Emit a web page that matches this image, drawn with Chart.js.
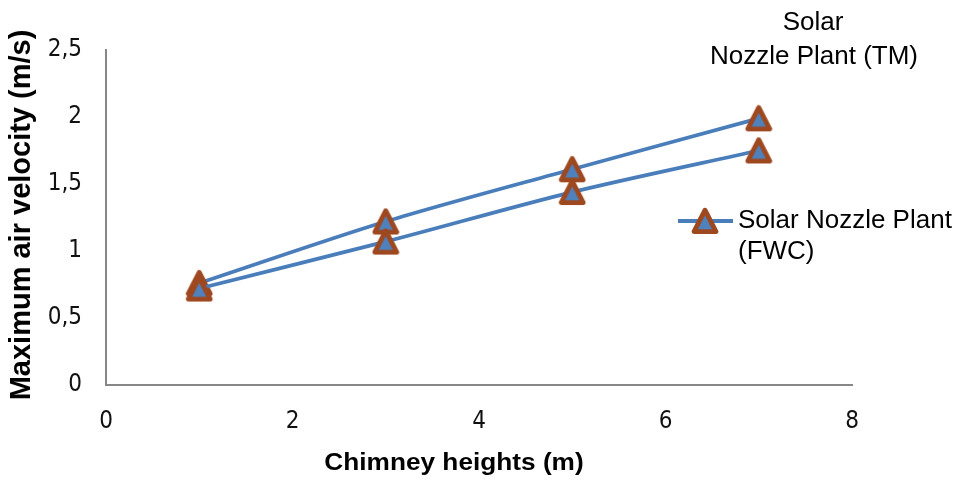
<!DOCTYPE html>
<html>
<head>
<meta charset="utf-8">
<script src="https://cdn.jsdelivr.net/npm/chart.js@4/dist/chart.umd.min.js"></script>
<style>
  html, body { margin: 0; padding: 0; background: #ffffff; }
  #wrap { position: relative; width: 957px; height: 483px; }
</style>
</head>
<body>
<div id="wrap"><canvas id="chart" width="957" height="483"></canvas></div>
<script>
// Chimney heights (m)
const heights = [1, 3, 5, 7];
// Maximum air velocity (m/s) for each plant configuration
const velocityTM = [0.76, 1.22, 1.61, 1.99];
const velocityFWC = [0.72, 1.07, 1.44, 1.75];
// Axis ticks
const xTickValues = [0, 2, 4, 6, 8];
const yTickValues = [0, 0.5, 1, 1.5, 2, 2.5];
const yTickLabels = ['0', '0,5', '1', '1,5', '2', '2,5'];

const seriesNames = ['Solar Nozzle Plant (TM)', 'Solar Nozzle Plant (FWC)'];

const LINE_BLUE = '#4a7ebb';
const MARK_FILL = '#4f81bd';
const MARK_EDGE = '#9e4820';
const TICK_FONT = '"Liberation Sans Narrow", "DejaVu Sans Condensed", "Open Sans", sans-serif';

// Triangle marker drawn once on its own canvas and reused as the point style
function makeTriangle() {
  const c = document.createElement('canvas');
  c.width = 28; c.height = 28;
  const g = c.getContext('2d');
  g.beginPath();
  g.moveTo(14, 3.2);
  g.lineTo(25, 24.6);
  g.lineTo(3, 24.6);
  g.closePath();
  g.fillStyle = MARK_FILL;
  g.fill();
  g.lineWidth = 4.8;
  g.lineJoin = 'round';
  g.strokeStyle = MARK_EDGE;
  g.stroke();
  return c;
}
const triangle = makeTriangle();

function toPoints(xs, ys) {
  return xs.map((x, i) => ({ x: x, y: ys[i] }));
}

// Axis titles and the legend block on the right
const textPlugin = {
  id: 'chartText',
  afterDraw(chart) {
    const ctx = chart.ctx;
    ctx.save();
    ctx.fillStyle = '#000000';

    // y axis title
    ctx.save();
    ctx.translate(22, 215);
    ctx.rotate(-Math.PI / 2);
    ctx.font = 'bold 29px "Liberation Sans", Arial, sans-serif';
    ctx.textAlign = 'center';
    ctx.textBaseline = 'middle';
    ctx.fillText('Maximum air velocity (m/s)', 0, 0);
    ctx.restore();

    // x axis title
    ctx.save();
    ctx.translate(454, 464);
    ctx.scale(1.14, 1);
    ctx.font = 'bold 23px "Liberation Sans", Arial, sans-serif';
    ctx.textAlign = 'center';
    ctx.textBaseline = 'middle';
    ctx.fillText('Chimney heights (m)', 0, 0);
    ctx.restore();

    // legend entry without a sample
    ctx.font = '26px "Liberation Sans", Arial, sans-serif';
    ctx.textAlign = 'center';
    ctx.textBaseline = 'middle';
    ctx.fillText('Solar', 813, 23);
    ctx.fillText('Nozzle Plant (TM)', 814, 57);

    // legend entry with line and marker sample
    ctx.strokeStyle = LINE_BLUE;
    ctx.lineWidth = 4;
    ctx.beginPath();
    ctx.moveTo(678, 221);
    ctx.lineTo(733, 221);
    ctx.stroke();
    ctx.drawImage(triangle, 705 - 14, 221 - 14);
    ctx.textAlign = 'left';
    ctx.fillText('Solar Nozzle Plant', 738, 221);
    ctx.fillText('(FWC)', 738, 252);

    ctx.restore();
  }
};

new Chart(document.getElementById('chart'), {
  type: 'line',
  data: {
    datasets: [
      {
        label: seriesNames[0],
        data: toPoints(heights, velocityTM),
        order: 1
      },
      {
        label: seriesNames[1],
        data: toPoints(heights, velocityFWC),
        order: 0
      }
    ].map(ds => Object.assign(ds, {
      borderColor: LINE_BLUE,
      borderWidth: 3.8,
      tension: 0.3,
      fill: false,
      pointStyle: triangle,
      pointRadius: 13,
      pointHoverRadius: 13,
      clip: false
    }))
  },
  options: {
    responsive: false,
    animation: false,
    events: [],
    layout: { padding: { left: 0, top: 50, right: 105, bottom: 0 } },
    plugins: {
      legend: { display: false },
      tooltip: { enabled: false },
      title: { display: false }
    },
    scales: {
      x: {
        type: 'linear',
        min: 0,
        max: 8,
        afterBuildTicks(scale) { scale.ticks = xTickValues.map(v => ({ value: v })); },
        afterFit(scale) { scale.height = 98; },
        grid: { display: false, drawTicks: false },
        border: { display: true, color: '#878787', width: 2 },
        ticks: {
          padding: 22,
          color: '#111111',
          font: { family: TICK_FONT, size: 24 },
          callback: v => String(v)
        }
      },
      y: {
        type: 'linear',
        min: 0,
        max: 2.5,
        afterBuildTicks(scale) { scale.ticks = yTickValues.map(v => ({ value: v })); },
        afterFit(scale) { scale.width = 106; },
        grid: { display: false, drawTicks: false },
        border: { display: true, color: '#878787', width: 2 },
        ticks: {
          padding: 24,
          color: '#111111',
          font: { family: TICK_FONT, size: 24 },
          callback: v => yTickLabels[yTickValues.indexOf(v)]
        }
      }
    }
  },
  plugins: [textPlugin]
});
</script>
</body>
</html>
